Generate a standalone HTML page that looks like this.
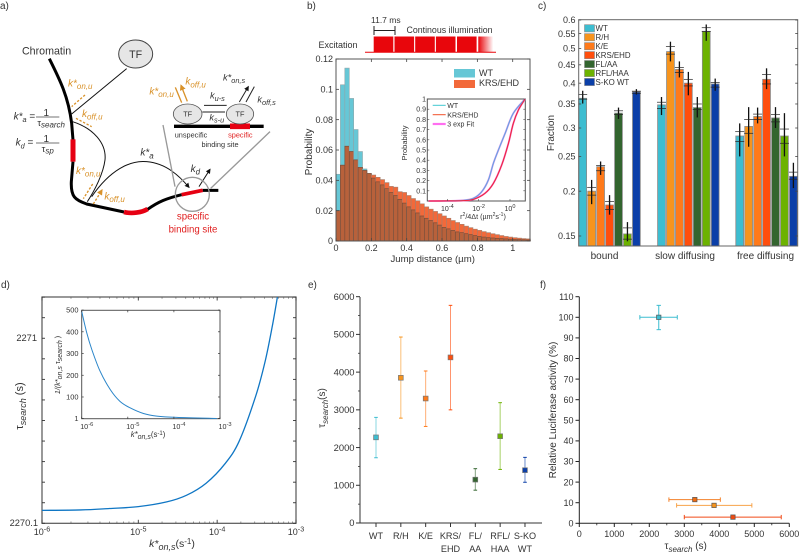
<!DOCTYPE html>
<html lang="en">
<head>
<meta charset="utf-8">
<title>TF search kinetics figure</title>
<style>
html,body{margin:0;padding:0;background:#fff;}
svg{display:block;font-family:"Liberation Sans",sans-serif;filter:blur(0.3px);}
text{fill:#333;}
</style>
</head>
<body>
<svg id="chart" xmlns="http://www.w3.org/2000/svg" width="799" height="553" viewBox="0 0 799 553">
<defs>
<marker id="ah-black" markerWidth="5" markerHeight="5" refX="4" refY="2.5" orient="auto"><path d="M0 0L5 2.5L0 5Z" fill="#111"/></marker>
<marker id="ah-orange" markerWidth="4.5" markerHeight="4.5" refX="3.6" refY="2.25" orient="auto"><path d="M0 0L4.5 2.25L0 4.5Z" fill="#d9922a"/></marker>
<linearGradient id="fade" x1="0" x2="1" y1="0" y2="0"><stop offset="0" stop-color="#e8060c"/><stop offset="1" stop-color="#e8060c" stop-opacity="0"/></linearGradient>
</defs>
<rect width="799" height="553" fill="#fff"/>

<g font-size="10">
<text x="0" y="9">a)</text>
<text x="307" y="9">b)</text>
<text x="538" y="9">c)</text>
<text x="1" y="288">d)</text>
<text x="308" y="288">e)</text>
<text x="540" y="288">f)</text>
</g>

<g transform="scale(0.33333)" fill="none" stroke-linecap="butt">
<text x="66" y="164" font-size="32">Chromatin</text>
<path d="M148 176C180 240 205 290 215 370L219 420M219 485L214 545C212 590 225 600 260 612L372 636M443 628C475 605 500 595 545 584M608 571L655 571" stroke="#000" stroke-width="9"/>
<path d="M219 418L219 485" stroke="#e60012" stroke-width="15"/>
<path d="M372 636C395 642 425 638 443 627" stroke="#e60012" stroke-width="14"/>
<path d="M545 584L608 571" stroke="#e60012" stroke-width="11"/>
<ellipse cx="407" cy="162" rx="51" ry="42" fill="#e6e6e6" stroke="#444" stroke-width="3"/>
<text x="407" y="174" font-size="32" text-anchor="middle">TF</text>
<path d="M380 206L215 342" stroke="#111" stroke-width="3"/>
<path d="M218 365C280 385 320 430 315 480C310 520 285 570 262 605" stroke="#111" stroke-width="3"/>
<path d="M275 590C330 510 390 480 440 485C500 490 540 530 567 562" stroke="#111" stroke-width="3" marker-end="url(#ah-black)"/>
<path d="M597 560L630 508" stroke="#111" stroke-width="3" marker-end="url(#ah-black)"/>
<circle cx="577" cy="583" r="51" stroke="#999" stroke-width="4"/>
<path d="M489 375L525 560M810 395L632 565" stroke="#999" stroke-width="4"/>
<path d="M255 285L215 320M228 355L275 380M278 552L250 596M280 612L306 570" stroke="#d9922a" stroke-width="4" stroke-dasharray="7 5" marker-end="url(#ah-orange)"/>
<g fill="#d9922a" font-style="italic">
<text x="204" y="259" font-size="30" style="fill:#d9922a">k*<tspan dy="8" font-size="24" style="fill:#d9922a">on,u</tspan></text>
<text x="246" y="351" font-size="30" style="fill:#d9922a">k<tspan dy="8" font-size="24" style="fill:#d9922a">off,u</tspan></text>
<text x="228" y="522" font-size="30" style="fill:#d9922a">k*<tspan dy="8" font-size="24" style="fill:#d9922a">on,u</tspan></text>
<text x="313" y="598" font-size="30" style="fill:#d9922a">k<tspan dy="8" font-size="24" style="fill:#d9922a">off,u</tspan></text>
<text x="448" y="283" font-size="30" style="fill:#d9922a">k*<tspan dy="8" font-size="24" style="fill:#d9922a">on,u</tspan></text>
<text x="556" y="254" font-size="30" style="fill:#d9922a">k<tspan dy="8" font-size="24" style="fill:#d9922a">off,u</tspan></text>
</g>
<g font-style="italic">
<text x="41" y="358" font-size="30">k*<tspan dy="8" font-size="22">a</tspan><tspan dy="-8" font-style="normal"> =</tspan></text>
<text x="139" y="348" font-size="30" font-style="normal" text-anchor="middle">1</text>
<path d="M108 351H178" stroke="#444" stroke-width="2"/>
<text x="112" y="378" font-size="28" font-style="normal">τ<tspan dy="5" font-size="24" font-style="italic">search</tspan></text>
<text x="47" y="437" font-size="30">k<tspan dy="8" font-size="22">d</tspan><tspan dy="-8" font-style="normal"> =</tspan></text>
<text x="139" y="426" font-size="30" font-style="normal" text-anchor="middle">1</text>
<path d="M108 429H178" stroke="#444" stroke-width="2"/>
<text x="125" y="456" font-size="28" font-style="normal">τ<tspan dy="5" font-size="24" font-style="italic">sp</tspan></text>
<text x="421" y="467" font-size="30">k*<tspan dy="8" font-size="24">a</tspan></text>
<text x="572" y="516" font-size="30">k<tspan dy="8" font-size="24">d</tspan></text>
</g>
<text x="579" y="659" font-size="29" text-anchor="middle" style="fill:#e02020">specific</text>
<text x="579" y="697" font-size="29" text-anchor="middle" style="fill:#e02020">binding site</text>
<g>
<path d="M522 379H791" stroke="#000" stroke-width="10"/>
<path d="M690 379H750" stroke="#e60012" stroke-width="17"/>
<ellipse cx="563" cy="342" rx="43" ry="30" fill="#e6e6e6" stroke="#555" stroke-width="2.5"/>
<ellipse cx="720" cy="342" rx="41" ry="30" fill="#e6e6e6" stroke="#555" stroke-width="2.5"/>
<text x="563" y="350" font-size="22" text-anchor="middle">TF</text>
<text x="720" y="350" font-size="22" text-anchor="middle">TF</text>
<path d="M526 262L545 308M562 304L543 256" stroke="#d9922a" stroke-width="4" marker-end="url(#ah-orange)"/>
<path d="M612 316H680M675 336H607M763 260L738 306M718 306L745 260" stroke="#222" stroke-width="3" marker-end="url(#ah-black)"/>
<text x="630" y="296" font-size="28" font-style="italic">k<tspan dy="7" font-size="22">u-s</tspan></text>
<text x="628" y="361" font-size="28" font-style="italic">k<tspan dy="7" font-size="22">s-u</tspan></text>
<text x="669" y="242" font-size="28" font-style="italic">k*<tspan dy="7" font-size="22">on,s</tspan></text>
<text x="772" y="308" font-size="28" font-style="italic">k<tspan dy="7" font-size="22">off,s</tspan></text>
<text x="573" y="413" font-size="22" text-anchor="middle">unspecific</text>
<text x="721" y="413" font-size="22" text-anchor="middle" style="fill:#e02020">specific</text>
<text x="660" y="441" font-size="22" text-anchor="middle">binding site</text>
</g>
</g>

<g>
<text x="318.5" y="48" font-size="9">Excitation</text>
<text x="371" y="23" font-size="8.5">11.7 ms</text>
<text x="406.5" y="33" font-size="8.8">Continous illumination</text>
<path d="M374 26V35M395 26V35M374 30.5H395" stroke="#222" stroke-width="1" fill="none"/>
<g fill="#e8060c">
<rect x="373.7" y="36.5" width="19.6" height="15.5"/>
<rect x="394.5" y="36.5" width="19.6" height="15.5"/>
<rect x="415.2" y="36.5" width="19.6" height="15.5"/>
<rect x="435.9" y="36.5" width="19.6" height="15.5"/>
<rect x="457" y="36.5" width="19.6" height="15.5"/>
<rect x="478.3" y="36.5" width="15" height="15.5" fill="url(#fade)"/>
</g>
<path d="M365 52.3H496" stroke="#e8060c" stroke-width="1"/>
</g>

<g id="panel-b"></g>
<g id="panel-c"></g>
<g id="panel-d"></g>
<g id="panel-e"></g>
<g id="panel-f"></g>
</svg>

<script>
/* ---------- panel b data ---------- */
const jumpBinWidth = 0.025;
const jumpWT = [.044,.103,.114,.094,.0735,.059,.0475,.0445,.0415,.039,.037,.0345,.032,.030,.0275,.025,.0225,.0205,.0185,.0165,.015,.0135,.012,.0105,.009,.008,.007,.006,.0055,.0048,.0042,.0036,.003,.0026,.0022,.002,.0018,.0016,.0014,.0012,.001,.0009,.0008,.0007];
const jumpKRS = [.02,.05,.0625,.059,.0535,.0485,.0465,.0445,.0435,.042,.0405,.0385,.036,.0355,.0325,.032,.03,.028,.0265,.0245,.0225,.021,.0195,.018,.0165,.015,.0135,.0122,.011,.0098,.0088,.0078,.007,.0062,.0055,.0048,.0042,.0036,.003,.0026,.0022,.0019,.0016,.0014];
const jumpXTicks = [0,0.2,0.4,0.6,0.8,1];
const jumpYTicks = [0,0.02,0.04,0.06,0.08,0.1,0.12];
const cdfLogR = [-5.2,-4,-3,-2.34,-1.81,-1.38,-1.06,-.74,-.32,.21,.96];
const cdfWT = [0,.001,.006,.026,.09,.206,.37,.5,.66,.86,1];
const cdfLogRKRS = [-5.2,-4,-3,-2.34,-1.6,-1.06,-.53,-.1,.21,.53,.96];
const cdfKRS = [0,.001,.004,.016,.075,.173,.353,.565,.76,.89,1];
const cdfYTicks = [.1,.2,.3,.4,.5,.6,.7,.8,.9,1];
const cdfXTicks = [-4,-2,0];

/* ---------- panel c data ---------- */
const fractionGroups = ['bound','slow diffusing','free diffusing'];
const mutantNames = ['WT','R/H','K/E','KRS/EHD','FL/AA','RFL/HAA','S-KO WT'];
const fractionValues = [
  [.363,.2,.234,.183,.33,.152,.378],
  [.348,.49,.437,.40,.342,.558,.398],
  [.285,.303,.323,.41,.32,.285,.22]];
const fractionCapHi = [
  [.372,.205,.236,.187,.335,.158,.38],
  [.354,.506,.442,.41,.35,.571,.402],
  [.293,.317,.328,.423,.327,.298,.226]];
const fractionCapLo = [
  [.361,.195,.228,.178,.327,.147,.375],
  [.34,.482,.428,.393,.338,.557,.39],
  [.275,.29,.317,.398,.312,.272,.216]];
const fractionWhiskHi = [
  [.381,.215,.242,.195,.342,.164,.385],
  [.366,.522,.46,.43,.366,.583,.412],
  [.309,.343,.342,.44,.343,.33,.24]];
const fractionWhiskLo = [
  [.351,.184,.222,.172,.318,.145,.372],
  [.326,.46,.415,.37,.321,.525,.381],
  [.25,.266,.309,.385,.30,.25,.204]];
const fractionTicks = [.15,.2,.25,.3,.35,.4,.45,.5,.55,.6];

/* ---------- panel d data ---------- */
const kOnLog = [-6,-5.6,-5.3,-5,-4.64,-4.39,-4.14,-3.9,-3.72,-3.51,-3.39,-3.3,-3.236];
const tauSearch = [2270.163,2270.165,2270.172,2270.181,2270.204,2270.236,2270.295,2270.39,2270.5,2270.72,2270.89,2271.06,2271.2];
const tauTicks = [2270.1,2270.2,2270.3,2270.4,2270.5,2270.6,2270.7,2270.8,2270.9,2271,2271.1,2271.2];
const kOnExponents = [-6,-5,-4,-3];
const insetLog = [-6,-5.89,-5.78,-5.6,-5.38,-5.17,-4.95,-4.66,-4.37,-3.94,-3.07];
const insetRatio = [494,395,318,218,134,80,50,24,12,6,1];
const insetYTicks = [1,100,200,300,400,500];

/* ---------- panel e data ---------- */
const eCategories = [['WT'],['R/H'],['K/E'],['KRS/','EHD'],['FL/','AA'],['RFL/','HAA'],['S-KO','WT']];
const tauMean = [2270,3850,3300,4390,1150,2300,1400];
const tauLow = [1730,2780,2560,3000,870,1420,1080];
const tauHigh = [2800,4930,4030,5770,1440,3190,1740];
const eYLabels = [0,1000,2000,3000,4000,5000,6000];

/* ---------- panel f data ---------- */
const fSeries = ['WT','K/E','R/H','KRS/EHD'];
const fTau = [2270,3300,3850,4390];
const fTauLow = [1730,2560,2780,3000];
const fTauHigh = [2800,4030,4930,5770];
const fActivity = [100,11.5,8.7,3];
const fActivityLow = [94,10.8,8,2.5];
const fActivityHigh = [105.8,12.2,9.4,3.5];
const fXTicks = [0,1000,2000,3000,4000,5000,6000];
const fYTicks = [0,10,20,30,40,50,60,70,80,90,100,110];

/* ---------- colours ---------- */
const mutantColors = ['#3dbdd0','#f7941d','#ff7a1a','#ff4e0d','#33652f','#6cb200','#0b3fa8'];

/* ---------- helpers ---------- */
const NS = 'http://www.w3.org/2000/svg';
function make(tag, parent, props, name) {
  const e = document.createElementNS(NS, tag);
  for (const k in props) e.setAttribute(k, props[k]);
  
  
  parent.appendChild(e);
  return e;
}
function line(p, x1, y1, x2, y2, stroke, w, name) {
  return make('line', p, {x1:x1, y1:y1, x2:x2, y2:y2, stroke:stroke, 'stroke-width':w}, name);
}
function rect(p, x, y, w, h, fill, name, extra) {
  return make('rect', p, Object.assign({x:x, y:y, width:w, height:h, fill:fill}, extra || {}), name);
}
function text(p, x, y, s, size, anchor, name, extra) {
  const t = make('text', p, Object.assign({x:x, y:y, 'font-size':size, 'text-anchor':anchor || 'start'}, extra || {}), name);
  t.textContent = s;
  return t;
}
function power(p, x, y, exp, size, anchor, name) {
  const t = make('text', p, {x:x, y:y, 'font-size':size, 'text-anchor':anchor}, name);
  t.appendChild(document.createTextNode('10'));
  const s = document.createElementNS(NS, 'tspan');
  s.setAttribute('dy', -size * 0.4);
  s.setAttribute('font-size', size * 0.8);
  s.textContent = exp;
  t.appendChild(s);
  return t;
}
function rich(p, x, y, parts, size, anchor, name, extra) {
  const t = make('text', p, Object.assign({x:x, y:y, 'font-size':size, 'text-anchor':anchor || 'start'}, extra || {}), name);
  parts.forEach(q => {
    const s = document.createElementNS(NS, 'tspan');
    s.textContent = q[0];
    if (q[1]) s.setAttribute('font-style', 'italic');
    if (q[2]) s.setAttribute('dy', q[2]);
    if (q[3]) s.setAttribute('font-size', q[3]);
    t.appendChild(s);
  });
  return t;
}
function smooth(pts) {
  let d = 'M' + pts[0][0].toFixed(2) + ' ' + pts[0][1].toFixed(2);
  for (let i = 0; i < pts.length - 1; i++) {
    const a = pts[Math.max(i - 1, 0)], b = pts[i], c = pts[i + 1], e = pts[Math.min(i + 2, pts.length - 1)];
    d += 'C' + (b[0] + (c[0] - a[0]) / 6).toFixed(2) + ' ' + (b[1] + (c[1] - a[1]) / 6).toFixed(2) + ' ' +
      (c[0] - (e[0] - b[0]) / 6).toFixed(2) + ' ' + (c[1] - (e[1] - b[1]) / 6).toFixed(2) + ' ' +
      c[0].toFixed(2) + ' ' + c[1].toFixed(2);
  }
  return d;
}
function curve(p, xs, ys, fx, fy, stroke, w, name) {
  return make('path', p, {d: smooth(xs.map((v, i) => [fx(v), fy(ys[i])])), fill:'none', stroke:stroke, 'stroke-width':w}, name);
}
function frame(p, x, y, w, h, stroke, sw, name, fill) {
  return rect(p, x, y, w, h, fill || 'none', name, {stroke:stroke, 'stroke-width':sw});
}

/* ---------- panel b ---------- */
(function () {
  const g = document.getElementById('panel-b');
  const X = v => 336 + v * 176.7;
  const Y = v => 241 - v * 1516.7;
  jumpWT.forEach((v, i) => {
    const x = X(i * jumpBinWidth), w = X(jumpBinWidth) - X(0), o = jumpKRS[i], low = Math.min(v, o);
    rect(g, x, Y(v), w, Y(0) - Y(v), '#66c7d6', 'wt-bar', {stroke:'#8fa5a9', 'stroke-width':.6});
    rect(g, x, Y(o), w, Y(0) - Y(o), '#f2693a', 'krs-bar', {stroke:'#a77f6c', 'stroke-width':.6});
    rect(g, x, Y(low), w, Y(0) - Y(low), '#b8613b', 'overlap-bar', {stroke:'#6f4a38', 'stroke-width':.6});
  });
  frame(g, 336, 59, 194, 182, '#555', 1, 'histogram-frame');
  jumpXTicks.forEach(v => {
    line(g, X(v), 241, X(v), 238, '#444', .8, 'x-tick');
    line(g, X(v), 59, X(v), 62, '#444', .8, 'x-tick-top');
    text(g, X(v), 251, String(v), 9, 'middle', 'x-tick-label');
  });
  jumpYTicks.forEach(v => {
    line(g, 336, Y(v), 339, Y(v), '#444', .8, 'y-tick');
    line(g, 530, Y(v), 527, Y(v), '#444', .8, 'y-tick-right');
    text(g, 333, Y(v) + 3.2, String(v), 9, 'end', 'y-tick-label');
  });
  text(g, 432.7, 262, 'Jump distance (µm)', 9.6, 'middle', 'x-axis-title');
  text(g, 0, 0, 'Probability', 10, 'middle', 'y-axis-title', {transform:'translate(312 152) rotate(-90)'});
  rect(g, 454, 69, 21, 8.5, '#66c7d6', 'legend-swatch-wt');
  rect(g, 454, 80, 21, 8, '#f2693a', 'legend-swatch-krs');
  text(g, 479, 76, 'WT', 9, 'start', 'legend-label-wt');
  text(g, 479, 86, 'KRS/EHD', 9, 'start', 'legend-label-krs');
  /* inset */
  const IX = lg => 270 + (720 + 47 * lg) / 3;
  const IY = p => 201 - p * 102;
  frame(g, 427.3, 99, 98, 102, '#555', 1, 'cdf-frame', '#fff');
  curve(g, cdfLogR, cdfWT, IX, IY, '#d890f0', 1.8, 'wt-fit-line');
  curve(g, cdfLogRKRS, cdfKRS, IX, IY, '#f070c0', 1.8, 'krs-fit-line');
  curve(g, cdfLogR, cdfWT, IX, IY, '#5fa8e0', 1, 'wt-cdf-line');
  curve(g, cdfLogRKRS, cdfKRS, IX, IY, '#f0233c', 1, 'krs-cdf-line');
  cdfYTicks.forEach(v => {
    line(g, 427.3, IY(v), 429.3, IY(v), '#444', .6, 'inset-y-tick');
    line(g, 525.3, IY(v), 523.3, IY(v), '#444', .6, 'inset-y-tick-right');
    text(g, 426, IY(v) + 2.5, String(v), 7, 'end', 'inset-y-tick-label');
  });
  cdfXTicks.forEach(v => {
    line(g, IX(v), 201, IX(v), 199, '#444', .6, 'inset-x-tick');
    power(g, IX(v), 211, String(v), 7, 'middle', 'inset-x-tick-label');
  });
  rich(g, 483, 219, [['r'],['2',0,-3,5],['/4Δt (µm',0,3],['2',0,-3,5],['s',0,3],['-1',0,-3,5],[')',0,3]], 7.2, 'middle', 'inset-x-title');
  text(g, 0, 0, 'Probability', 7.5, 'middle', 'inset-y-title', {transform:'translate(407 143) rotate(-90)'});
  line(g, 432.7, 105.3, 445.7, 105.3, '#3fc8d0', 1, 'inset-legend-wt-line');
  line(g, 432.7, 114.7, 445.7, 114.7, '#f2502a', 1, 'inset-legend-krs-line');
  line(g, 432.7, 124, 445.7, 124, '#ff6ef0', 2.2, 'inset-legend-fit-line');
  text(g, 447.3, 108, 'WT', 7, 'start', 'inset-legend-wt');
  text(g, 447.3, 117.3, 'KRS/EHD', 7, 'start', 'inset-legend-krs');
  text(g, 447.3, 126.6, '3 exp Fit', 7, 'start', 'inset-legend-fit');
})();

/* ---------- panel c ---------- */
(function () {
  const g = document.getElementById('panel-c');
  const Y = v => 236 - 108 * Math.log2(v / 0.15);
  const groupX = [582.7, 661.5, 739.7];
  const barStep = 8.95;
  const bottom = 246;
  fractionValues.forEach((vals, gi) => {
    vals.forEach((v, i) => {
      const cx = groupX[gi] + i * barStep;
      rect(g, cx - 3.9, Y(v), 7.8, bottom - Y(v), mutantColors[i], 'fraction-bar', {stroke:'#8a8a8a', 'stroke-width':.8});
      line(g, cx, Y(fractionWhiskHi[gi][i]), cx, Y(fractionWhiskLo[gi][i]), '#111', 1.3, 'fraction-whisker');
      line(g, cx - 4.5, Y(fractionCapHi[gi][i]), cx + 4.5, Y(fractionCapHi[gi][i]), '#222', .7, 'fraction-cap-high');
      line(g, cx - 4.5, Y(fractionCapLo[gi][i]), cx + 4.5, Y(fractionCapLo[gi][i]), '#222', .7, 'fraction-cap-low');
    });
  });
  frame(g, 578.7, 19.7, 219, 226.3, '#666', 1, 'fractions-frame');
  fractionTicks.forEach(v => {
    line(g, 578.7, Y(v), 581.2, Y(v), '#444', .8, 'y-tick');
    line(g, 797.7, Y(v), 795.2, Y(v), '#444', .8, 'y-tick-right');
    text(g, 575.5, Y(v) + 3.2, String(v), 9, 'end', 'y-tick-label');
  });
  fractionGroups.forEach((n, i) => {
    text(g, [604.5, 685, 765.5][i], 259, n, 10, 'middle', 'group-label');
  });
  text(g, 0, 0, 'Fraction', 10, 'middle', 'y-axis-title', {transform:'translate(554 133) rotate(-90)'});
  mutantNames.forEach((n, i) => {
    const y = 28.3 + i * 8.95;
    rect(g, 584.5, y - 3.6, 10, 7.2, mutantColors[i], 'legend-swatch', {stroke:'#8a8a8a', 'stroke-width':.6});
    text(g, 595.5, y + 2.8, n, 7.9, 'start', 'legend-label');
  });
})();

/* ---------- panel d ---------- */
(function () {
  const g = document.getElementById('panel-d');
  const X = lg => lg < -5 ? 138.3 - (-5 - lg) * 96.3 : 296 + (lg + 3) * 78.85;
  const Y = t => 523.3 - (t - 2270.1) * 205.6;
  frame(g, 42, 297, 254, 226.3, '#555', 1.2, 'main-frame');
  curve(g, kOnLog, tauSearch, X, Y, '#0f76c4', 1.3, 'tau-curve');
  tauTicks.forEach(v => {
    line(g, 42, Y(v), 45, Y(v), '#333', .9, 'y-tick');
    line(g, 296, Y(v), 293, Y(v), '#333', .9, 'y-tick-right');
  });
  kOnExponents.forEach(e => {
    line(g, X(e), 523.3, X(e), 519.8, '#333', .9, 'x-tick');
    line(g, X(e), 297, X(e), 300.5, '#333', .9, 'x-tick-top');
    power(g, X(e), 535, String(e), 9, 'middle', 'x-tick-label');
    if (e < -3) {
      for (let m = 2; m < 10; m++) {
        const lg = e + Math.log10(m);
        line(g, X(lg), 523.3, X(lg), 521.5, '#555', .6, 'x-minor-tick');
        line(g, X(lg), 297, X(lg), 298.8, '#555', .6, 'x-minor-tick-top');
      }
    }
  });
  text(g, 37, 341, '2271', 9.3, 'end', 'y-tick-label');
  text(g, 38, 526, '2270.1', 9.3, 'end', 'y-tick-label');
  rich(g, 0, 0, [['τ'],['search',1,3,9],[' (s)',0,-3]], 11, 'middle', 'y-axis-title', {transform:'translate(23 406) rotate(-90)'});
  rich(g, 172, 547, [['k*',1],['on,s',1,3,9],['(s',0,-3],['-1',0,-3,8],[')',0,3]], 10.5, 'middle', 'x-axis-title');
  /* inset */
  const IX = lg => 220 + (lg + 3) * 46.1;
  const IY = v => 418.5 - (v - 1) * 0.2173;
  frame(g, 81.7, 310.3, 138.3, 108.4, '#555', 1, 'inset-frame', '#fff');
  curve(g, insetLog, insetRatio, IX, IY, '#2a85c9', 1, 'ratio-curve');
  insetYTicks.forEach(v => {
    line(g, 81.7, IY(v), 83.7, IY(v), '#333', .7, 'inset-y-tick');
    line(g, 220, IY(v), 218, IY(v), '#333', .7, 'inset-y-tick-right');
    text(g, 78.5, IY(v) + 2.5, String(v), 7.4, 'end', 'inset-y-tick-label');
  });
  kOnExponents.forEach(e => {
    line(g, IX(e), 418.7, IX(e), 416.7, '#333', .7, 'inset-x-tick');
    line(g, IX(e), 310.3, IX(e), 312.3, '#333', .7, 'inset-x-tick-top');
    power(g, IX(e) - 1.5, 429, String(e), 7.2, 'start', 'inset-x-tick-label');
  });
  rich(g, 0, 0, [['1/(k*',1],['on,s',1,2,7],[' τ',0,-2],['search',1,2,7],[' )',0,-2]], 7.2, 'middle', 'inset-y-title', {transform:'translate(60 365) rotate(-90)'});
  rich(g, 148, 437, [['k*',1],['on,s',1,2,7],['(s',0,-2],['-1',0,-2,6],[')',0,2]], 7.8, 'middle', 'inset-x-title');
})();

/* ---------- panel e ---------- */
(function () {
  const g = document.getElementById('panel-e');
  const X = i => 376 + i * 24.83;
  const Y = v => 523 - v * 0.03772;
  line(g, 360, 297, 360, 523.5, '#333', 1, 'y-axis');
  line(g, 359.5, 523, 542, 523, '#333', 1, 'x-axis');
  eYLabels.forEach(v => {
    line(g, 356, Y(v), 360, Y(v), '#333', 1, 'y-tick');
    text(g, 354.5, Y(v) + 3.2, String(v), 9.4, 'end', 'y-tick-label');
    if (v < 6000) line(g, 358, Y(v + 500), 360, Y(v + 500), '#333', .8, 'y-minor-tick');
  });
  eCategories.forEach((lines, i) => {
    line(g, X(i), 523, X(i), 527, '#333', 1, 'x-tick');
    lines.forEach((s, k) => text(g, X(i), 539 + k * 13, s, 9.1, 'middle', 'category-label'));
    const c = mutantColors[i];
    const bar = line(g, X(i), Y(tauLow[i]), X(i), Y(tauHigh[i]), c, 1, 'error-bar');
    bar.setAttribute('opacity', .6);
    line(g, X(i) - 1.8, Y(tauHigh[i]), X(i) + 1.8, Y(tauHigh[i]), c, 1, 'error-cap-high');
    line(g, X(i) - 1.8, Y(tauLow[i]), X(i) + 1.8, Y(tauLow[i]), c, 1, 'error-cap-low');
    rect(g, X(i) - 2.4, Y(tauMean[i]) - 2.4, 4.8, 4.8, c, 'mean-marker', {stroke:'#777', 'stroke-width':.7});
  });
  rich(g, 0, 0, [['τ'],['search',1,3,8],['(s)',0,-3]], 10, 'middle', 'y-axis-title', {transform:'translate(325 408) rotate(-90)'});
})();

/* ---------- panel f ---------- */
(function () {
  const g = document.getElementById('panel-f');
  const X = v => 579.3 + v * 0.035;
  const Y = v => 523.3 - v * 2.06;
  const colors = ['#3dbdd0','#f3812a','#f7a34a','#f04a18'];
  const fill = ['#3dbdd0','#ef6a10','#f7941d','#f04a10'];
  line(g, 579.3, 296.7, 579.3, 524, '#222', 1, 'y-axis');
  line(g, 579, 523.3, 789.3, 523.3, '#222', 1, 'x-axis');
  fYTicks.forEach(v => {
    line(g, 575.5, Y(v), 579.3, Y(v), '#222', 1, 'y-tick');
    text(g, 573.5, Y(v) + 3.2, String(v), 9, 'end', 'y-tick-label');
  });
  fXTicks.forEach(v => {
    line(g, X(v), 523.3, X(v), 527, '#222', 1, 'x-tick');
    text(g, X(v), 537, String(v), 9, 'middle', 'x-tick-label');
    if (v < 6000) line(g, X(v + 500), 523.3, X(v + 500), 525.3, '#222', .8, 'x-minor-tick');
  });
  fSeries.forEach((n, i) => {
    const c = colors[i], x = X(fTau[i]), y = Y(fActivity[i]);
    line(g, X(fTauLow[i]), y, X(fTauHigh[i]), y, c, 1, 'x-error-bar');
    line(g, X(fTauLow[i]), y - 2.2, X(fTauLow[i]), y + 2.2, c, 1, 'x-error-cap-low');
    line(g, X(fTauHigh[i]), y - 2.2, X(fTauHigh[i]), y + 2.2, c, 1, 'x-error-cap-high');
    if (i === 0) {
      line(g, x, Y(fActivityLow[i]), x, Y(fActivityHigh[i]), c, 1, 'y-error-bar');
      line(g, x - 2.2, Y(fActivityLow[i]), x + 2.2, Y(fActivityLow[i]), c, 1, 'y-error-cap-low');
      line(g, x - 2.2, Y(fActivityHigh[i]), x + 2.2, Y(fActivityHigh[i]), c, 1, 'y-error-cap-high');
    }
    rect(g, x - 2.2, y - 2.2, 4.4, 4.4, fill[i], 'activity-marker', {stroke:'#555', 'stroke-width':.7});
  });
  text(g, 0, 0, 'Relative Luciferase activity (%)', 10, 'middle', 'y-axis-title', {transform:'translate(556 410) rotate(-90)'});
  rich(g, 685.7, 549, [['τ'],['search',1,3,8],[' (s)',0,-3]], 10, 'middle', 'x-axis-title');
})();
</script>
</body>
</html>
